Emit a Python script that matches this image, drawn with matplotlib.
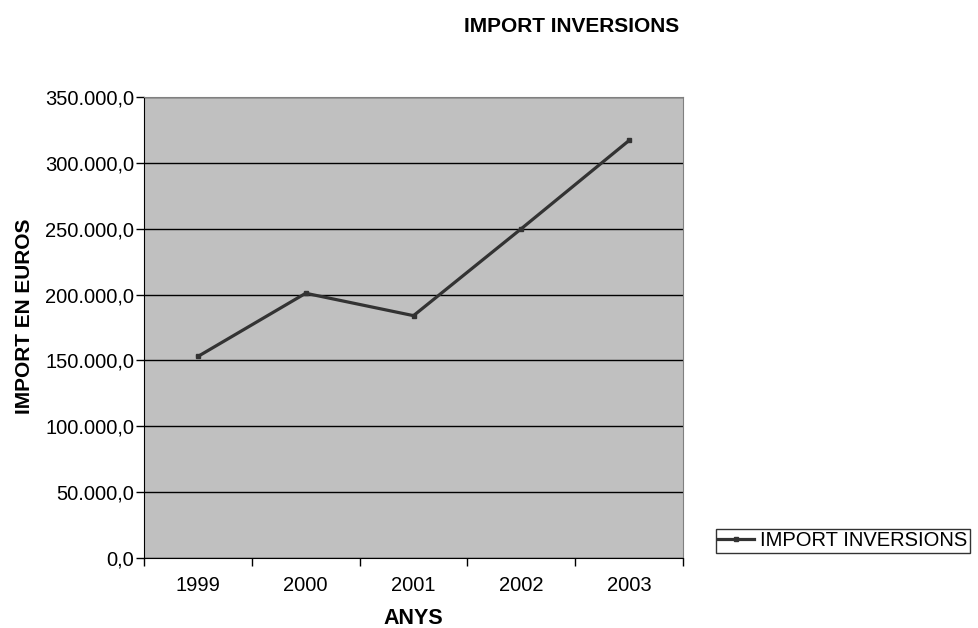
import numpy as np
import matplotlib.pyplot as plt
from matplotlib.ticker import FuncFormatter, FixedLocator

plt.rcParams['font.family'] = ['Liberation Sans', 'DejaVu Sans']

anys = ['1999', '2000', '2001', '2002', '2003']
import_inversions = [153000, 201000, 184000, 250000, 317000]

fig = plt.figure(figsize=(9.79, 6.28), dpi=100)
ax = fig.add_axes([144 / 979, 70 / 628, 539 / 979, 461 / 628])
ax.set_facecolor('#c0c0c0')

x = np.arange(len(anys))
ax.plot(x, import_inversions, color='#333333', lw=2.3, marker='s', ms=3,
        label='IMPORT INVERSIONS', zorder=3)

ax.set_xlim(-0.5, len(anys) - 0.5)
ax.set_ylim(0, 350000)
ax.set_yticks(np.arange(0, 350001, 50000))


def fmt(v, pos):
    s = f"{v:,.1f}"
    return s.replace(',', 'X').replace('.', ',').replace('X', '.')


ax.yaxis.set_major_formatter(FuncFormatter(fmt))
ax.set_xticks(x)
ax.set_xticklabels(anys)
ax.tick_params(axis='x', which='major', length=0, pad=13, labelsize=14.5)
ax.xaxis.set_minor_locator(FixedLocator(np.arange(-0.5, len(anys), 1)))
ax.tick_params(axis='x', which='minor', length=6, width=1, color='black')
ax.tick_params(axis='y', length=6, width=1, labelsize=14.5, pad=1)

ax.grid(axis='y', color='black', lw=1)
ax.set_axisbelow(True)
for side in ['top', 'right']:
    ax.spines[side].set_color('#808080')
for side in ['left', 'bottom']:
    ax.spines[side].set_color('black')

fig.text(572 / 979, 1 - 26 / 628, 'IMPORT INVERSIONS', ha='center', va='center',
         fontsize=15, fontweight='bold')
fig.text(25 / 979, 1 - 316 / 628, 'IMPORT EN EUROS', ha='center', va='center',
         rotation=90, fontsize=15, fontweight='bold')
fig.text(413 / 979, 1 - 618 / 628, 'ANYS', ha='center', va='center',
         fontsize=15.5, fontweight='bold')

leg = fig.legend(loc='center left', bbox_to_anchor=(716 / 979, 1 - 541 / 628),
                 frameon=True, fancybox=False, fontsize=14.5, handlelength=1.8,
                 handletextpad=0.3, borderpad=0.1, borderaxespad=0)
leg.get_frame().set_edgecolor('black')
leg.get_frame().set_linewidth(1)

fig.savefig('out.png', dpi=100)
